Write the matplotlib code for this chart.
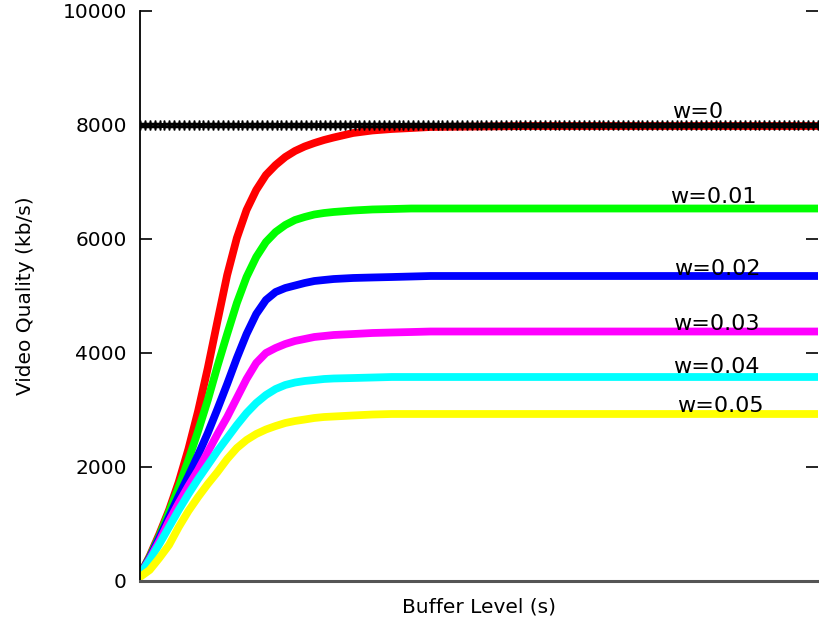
import numpy as np
import matplotlib
matplotlib.use("Agg")
import matplotlib.pyplot as plt

# Buffer level samples (s)
buffer_s = list(range(0, 21)) + [22, 24, 26, 28, 30, 35, 40, 50, 60, 70]

# Chosen video quality (kb/s) for each weight w
q_w000 = [105, 439, 825, 1246, 1737, 2316, 2982, 3737, 4561, 5368, 6018, 6509, 6860, 7123,
          7298, 7439, 7544, 7623, 7684, 7737, 7781,
          7860, 7904, 7930, 7947, 7965, 7974, 7982, 7982, 7982, 7982]
q_w001 = [105, 421, 789, 1211, 1649, 2123, 2632, 3175, 3772, 4333, 4877, 5333, 5684, 5947,
          6123, 6246, 6333, 6386, 6430, 6456, 6474,
          6500, 6518, 6526, 6535, 6535, 6535, 6535, 6535, 6535, 6535]
q_w002 = [105, 404, 754, 1123, 1491, 1842, 2211, 2596, 3018, 3456, 3912, 4333, 4684, 4930,
          5070, 5140, 5184, 5228, 5263, 5281, 5298,
          5316, 5325, 5333, 5342, 5351, 5351, 5351, 5351, 5351, 5351]
q_w003 = [105, 386, 702, 1053, 1368, 1667, 1947, 2263, 2579, 2877, 3211, 3544, 3825, 4000,
          4088, 4158, 4211, 4246, 4281, 4298, 4316,
          4333, 4351, 4360, 4368, 4377, 4377, 4377, 4377, 4377, 4377]
q_w004 = [105, 368, 649, 947, 1246, 1526, 1789, 2035, 2281, 2509, 2737, 2947, 3123, 3263,
          3368, 3439, 3482, 3509, 3526, 3544, 3553,
          3561, 3570, 3579, 3579, 3579, 3579, 3579, 3579, 3579, 3579]
q_w005 = [70, 193, 404, 632, 947, 1228, 1474, 1702, 1912, 2140, 2333, 2474, 2579, 2658,
          2719, 2772, 2807, 2833, 2860, 2877, 2886,
          2904, 2921, 2930, 2930, 2930, 2930, 2930, 2930, 2930, 2930]

# Maximum available bitrate (reference level)
q_max = 8000

series = [
    ("w=0", q_w000, "#ff0000", (54.9, 8123)),
    ("w=0.01", q_w001, "#00ff00", (54.7, 6632)),
    ("w=0.02", q_w002, "#0000ff", (55.1, 5368)),
    ("w=0.03", q_w003, "#ff00ff", (55.0, 4404)),
    ("w=0.04", q_w004, "#00ffff", (55.0, 3649)),
    ("w=0.05", q_w005, "#ffff00", (55.4, 2965)),
]

plt.rcParams["font.family"] = ["DejaVu Sans"]

fig = plt.figure(figsize=(8.19, 6.26), dpi=100)
ax = fig.add_axes([140 / 819, 45 / 626, 678 / 819, 570 / 626])

x = np.array(buffer_s, dtype=float)
for label, q, color, (tx, ty) in series:
    ax.plot(x, q, color=color, lw=5.6, solid_capstyle="round",
            solid_joinstyle="round", zorder=2)
    ax.text(tx, ty, label, fontsize=16, ha="left", va="baseline", color="black", zorder=5)

# reference level drawn as a dense row of asterisk points
x_ref = np.linspace(0, 70, 140)
ax.plot(x_ref, np.full_like(x_ref, q_max), linestyle="none", marker=(6, 2, 0),
        markersize=7, markeredgewidth=1.1, color="black", zorder=3)

ax.set_xlim(0, 70)
ax.set_ylim(0, 10000)
ax.set_yticks([0, 2000, 4000, 6000, 8000, 10000])
ax.set_xticks([])

ax.spines["top"].set_visible(False)
ax.spines["right"].set_visible(False)
ax.spines["left"].set_color("black")
ax.spines["left"].set_linewidth(1.3)
ax.spines["bottom"].set_color("#555555")
ax.spines["bottom"].set_linewidth(2.2)

ax.tick_params(axis="y", direction="in", length=8.6, width=1.2, pad=9.5,
               labelsize=14.5, left=True, right=True, colors="black")
for t in ax.yaxis.get_ticklines()[1::2]:
    t.set_color("#555555")

ax.set_ylabel("Video Quality (kb/s)", fontsize=14.5, labelpad=20)
ax.set_xlabel("Buffer Level (s)", fontsize=14.5, labelpad=12)

fig.savefig("out.png", dpi=100)
